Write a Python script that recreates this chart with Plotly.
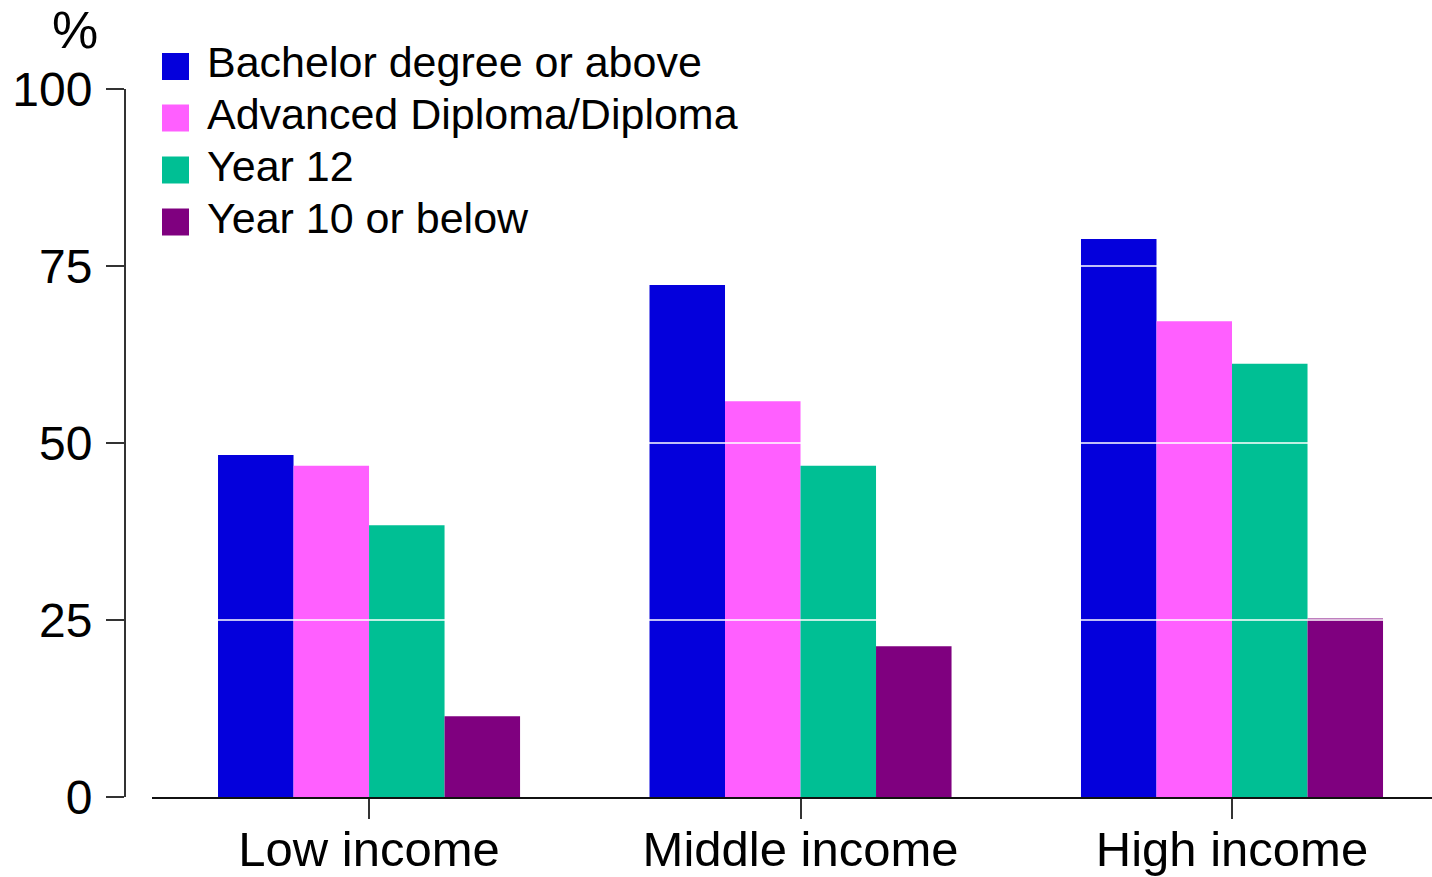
import plotly.graph_objects as go

categories = ["Low income", "Middle income", "High income"]
series_names = ["Bachelor degree or above", "Advanced Diploma/Diploma", "Year 12", "Year 10 or below"]
bachelor = [48.3, 72.3, 78.8]
diploma = [46.8, 55.9, 67.2]
year12 = [38.4, 46.8, 61.2]
year10 = [11.4, 21.3, 25.2]
y_ticks = [0, 25, 50, 75, 100]
colors = ["#0400DC", "#FF5FFF", "#00BF94", "#7F007F"]

W, H = 1432, 877
ML, MR, MT, MB = 125, 0, 89, 80
PW, PH = W - ML - MR, H - MT - MB
FONT = "Liberation Sans"

def px_x(p):
    return (p - ML) / PW

def px_y(p):
    return (H - MB - p) / PH

fig = go.Figure()
for name, vals, col in zip(series_names, [bachelor, diploma, year12, year10], colors):
    fig.add_trace(go.Bar(x=categories, y=vals, name=name, marker=dict(color=col, line=dict(width=0)),
                         showlegend=False))

# white gridlines drawn over bars
for t in y_ticks[1:-1]:
    fig.add_shape(type="line", xref="x domain", yref="y", x0=0, x1=1, y0=t, y1=t,
                  line=dict(color="white", width=1.5), layer="above")

# custom legend
row_centers = [66.5, 118, 170, 222]
for name, col, rc in zip(series_names, colors, row_centers):
    fig.add_shape(type="rect", xref="paper", yref="paper",
                  x0=px_x(162), x1=px_x(189), y0=px_y(rc + 13.5), y1=px_y(rc - 13.5),
                  fillcolor=col, line=dict(width=0), layer="above")
    fig.add_annotation(xref="paper", yref="paper", x=px_x(205), y=px_y(rc - 4), text=name,
                       showarrow=False, xanchor="left", yanchor="middle",
                       font=dict(family=FONT, size=43, color="black"))

fig.add_annotation(xref="paper", yref="paper", x=px_x(75), y=px_y(30), text="%",
                   showarrow=False, xanchor="center", yanchor="middle",
                   font=dict(family=FONT, size=52, color="black"))

fig.update_layout(
    width=W, height=H,
    margin=dict(l=ML, r=MR, t=MT, b=MB, autoexpand=False),
    paper_bgcolor="white", plot_bgcolor="white",
    barmode="group", bargap=0.30, bargroupgap=0,
    showlegend=False,
    xaxis=dict(domain=[(152 - ML) / PW, 1], range=[-0.503, 2.4635], automargin=False,
               showline=True, linecolor="#111", linewidth=2,
               ticks="outside", ticklen=20, tickwidth=2, tickcolor="#333",
               showgrid=False, zeroline=False, ticklabelstandoff=-12,
               tickfont=dict(family=FONT, size=49, color="black")),
    yaxis=dict(anchor="free", position=0, range=[0, 100], tickvals=y_ticks, automargin=False,
               showline=True, linecolor="#333", linewidth=2,
               ticks="outside", ticklen=18, tickwidth=2, tickcolor="#333",
               showgrid=False, zeroline=False, ticklabelstandoff=4,
               tickfont=dict(family=FONT, size=48, color="black")),
)

fig.write_html("out.html", config={"displayModeBar": False},
               post_script="document.body.style.margin='0';document.body.style.overflow='hidden';")
